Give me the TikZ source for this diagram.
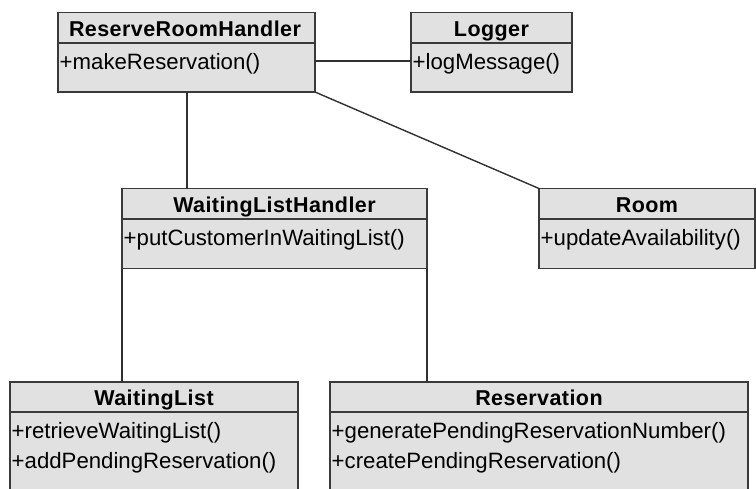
\documentclass[tikz,border=0pt]{standalone}
\usepackage{fontspec}
\setmainfont{Liberation Sans}
\newfontfamily\titlefont{Liberation Sans}[LetterSpace=2]
\definecolor{boxfill}{HTML}{E1E1E1}
\definecolor{boxline}{HTML}{3A3A3A}
\definecolor{lineclr}{HTML}{303030}
\begin{document}
\begin{tikzpicture}[x=1pt,y=-1pt,
  cls/.style={draw=boxline, fill=boxfill, line width=1.4pt, inner sep=0pt, outer sep=0pt, anchor=north west},
  divl/.style={draw=boxline, line width=1.4pt},
  conn/.style={draw=lineclr, line width=1.4pt},
  title/.style={anchor=base, inner sep=0pt, font=\titlefont\fontsize{21.5}{24}\selectfont\bfseries, text=black},
  meth/.style={anchor=base west, inner sep=0pt, font=\fontsize{22.2}{24}\selectfont, text=black}]
\useasboundingbox (0,0) rectangle (756,488);
\clip (0,0) rectangle (756,488);
% boxes
\node[cls, minimum width=257pt, minimum height=79.3pt] (rrh) at (58,12.7) {};
\node[cls, minimum width=161pt, minimum height=79.3pt] (log) at (411,12.7) {};
\node[cls, minimum width=305pt, minimum height=80pt] (wlh) at (122,188.5) {};
\node[cls, minimum width=216pt, minimum height=80pt] (room) at (539,188.5) {};
\node[cls, minimum width=288pt, minimum height=120pt] (wl) at (10,382) {};
\node[cls, minimum width=418pt, minimum height=120pt] (res) at (330,382) {};
% dividers
\draw[divl] (rrh.west |- 0,43) -- (rrh.east |- 0,43);
\draw[divl] (log.west |- 0,43) -- (log.east |- 0,43);
\draw[divl] (wlh.west |- 0,219) -- (wlh.east |- 0,219);
\draw[divl] (room.west |- 0,219) -- (room.east |- 0,219);
\draw[divl] (wl.west |- 0,412) -- (wl.east |- 0,412);
\draw[divl] (res.west |- 0,412) -- (res.east |- 0,412);
% titles
\node[title] (t1) at (185,36) {ReserveRoomHandler};
\node[title] (t2) at (491.5,36) {Logger};
\node[title] (t3) at (274.5,212) {WaitingListHandler};
\node[title] (t4) at (647,212) {Room};
\node[title] (t5) at (154,405) {WaitingList};
\node[title] (t6) at (539,405) {Reservation};
% methods
\node[meth] (m1) at (59.5,69.5) {+makeReservation()};
\node[meth] (m2) at (412.5,69.5) {+logMessage()};
\node[meth] (m3) at (123.5,245.5) {+putCustomerInWaitingList()};
\node[meth] (m4) at (540.5,245.5) {+updateAvailability()};
\node[meth] (m5) at (11.5,438.5) {+retrieveWaitingList()};
\node[meth] (m6) at (11.5,468) {+addPendingReservation()};
\node[meth] (m7) at (331.5,438.5) {+generatePendingReservationNumber()};
\node[meth] (m8) at (331.5,468) {+createPendingReservation()};
% connectors
\draw[conn] (rrh.east |- 0,61) -- (log.west |- 0,61);
\draw[conn] (rrh.south -| 187,0) -- (wlh.north -| 187,0);
\draw[conn] (rrh.south east) -- (room.north west);
\draw[conn] (wlh.south west) -- (wl.north -| wlh.south west);
\draw[conn] (wlh.south east) -- (res.north -| wlh.south east);
\end{tikzpicture}
\end{document}
